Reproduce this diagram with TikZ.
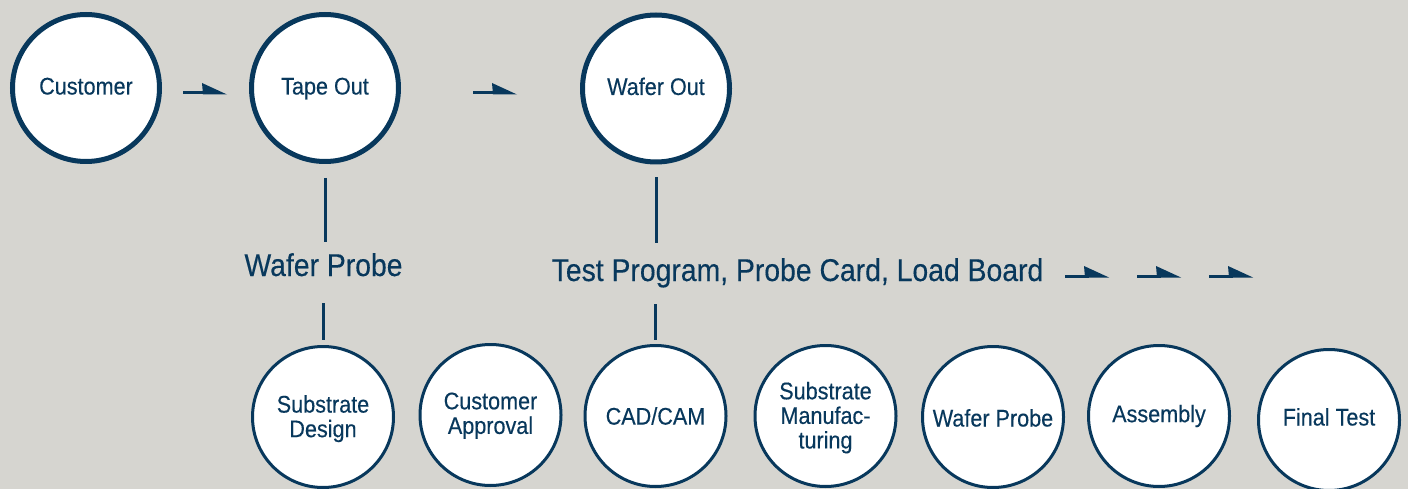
\documentclass[tikz,border=0pt]{standalone}
\usepackage{fontspec}
\setmainfont{Liberation Sans}[FakeStretch=0.9,FakeBold=0.3]
\definecolor{navy}{RGB}{8,56,92}
\definecolor{bgc}{RGB}{214,213,208}
\newcommand{\shiftlbl}[2]{\raisebox{#1}[0pt][0pt]{\begin{tabular}{@{}c@{}}#2\end{tabular}}}
\newcommand{\shiftone}[2]{\raisebox{#1}[0pt][0pt]{#2}}
\tikzset{
  topcirc/.style={circle, draw=navy, line width=5pt, fill=white, minimum size=147pt, inner sep=0pt,
     text=navy, text height=17pt, text depth=4pt, font=\fontsize{24}{24}\selectfont},
  botcirc/.style={circle, draw=navy, line width=3pt, fill=white, minimum size=141pt, inner sep=0pt,
     text=navy, font=\fontsize{24}{24}\selectfont},
  biglabel/.style={text=navy, inner sep=0pt, text height=22.5pt, text depth=0pt, anchor=base,
     font=\fontsize{31.5}{32}\selectfont},
  conn/.style={draw=navy, line width=3pt},
  flowarrow/.pic={
    \fill[navy] (-44,-3) rectangle (-20,0);
    \fill[navy] (-25,-11.5) -- (0,0) -- (-24,0) -- cycle;
  }
}
\begin{document}
\begin{tikzpicture}[x=1pt,y=-1pt]
\fill[bgc] (0,0) rectangle (1408,489);
\useasboundingbox (0,0) rectangle (1408,489);

% top row
\node[topcirc] (cust) at (86,88) {Customer};
\node[topcirc] (tape) at (325,88) {Tape Out};
\node[topcirc] (wout) at (656,88.5) {Wafer Out};

% middle labels
\node[biglabel] (wpl) at (323.5,276) {Wafer Probe};
\node[biglabel] (tpl) at (797.5,281) {Test Program, Probe Card, Load Board};

% bottom row
\node[botcirc] (sd) at (323,417) {\shiftlbl{-9pt}{Substrate\\Design}};
\node[botcirc] (ca) at (490.5,415) {\shiftlbl{-8pt}{Customer\\Approval}};
\node[botcirc] (cad) at (655.5,416) {CAD/CAM};
\node[botcirc] (sm) at (825.5,416) {\shiftlbl{-9pt}{Substrate\\Manufac-\\turing}};
\node[botcirc] (wp) at (993,417) {\shiftone{-9.5pt}{Wafer Probe}};
\node[botcirc] (as) at (1159,416) {Assembly};
\node[botcirc] (ft) at (1329,420) {\shiftone{-5.5pt}{Final Test}};

% connectors
\draw[conn, shorten <=14pt, shorten >=11pt] (tape.south) -- (tape.south |- wpl.north);
\draw[conn, shorten <=27pt, shorten >=5pt] (sd.north |- wpl.south) -- (sd.north);
\draw[conn, shorten <=13pt, shorten >=15pt] (wout.south) -- (wout.south |- tpl.north);
\draw[conn, shorten <=23pt, shorten >=4pt] (cad.north |- tpl.south) -- (cad.north);

% flow arrows
\pic (a1) at (227,94.5) {flowarrow};
\pic (a2) at (517,94.5) {flowarrow};
\pic (a3) at (1109,277.5) {flowarrow};
\pic (a4) at (1181,277.5) {flowarrow};
\pic (a5) at (1253,277.5) {flowarrow};
\end{tikzpicture}
\end{document}
